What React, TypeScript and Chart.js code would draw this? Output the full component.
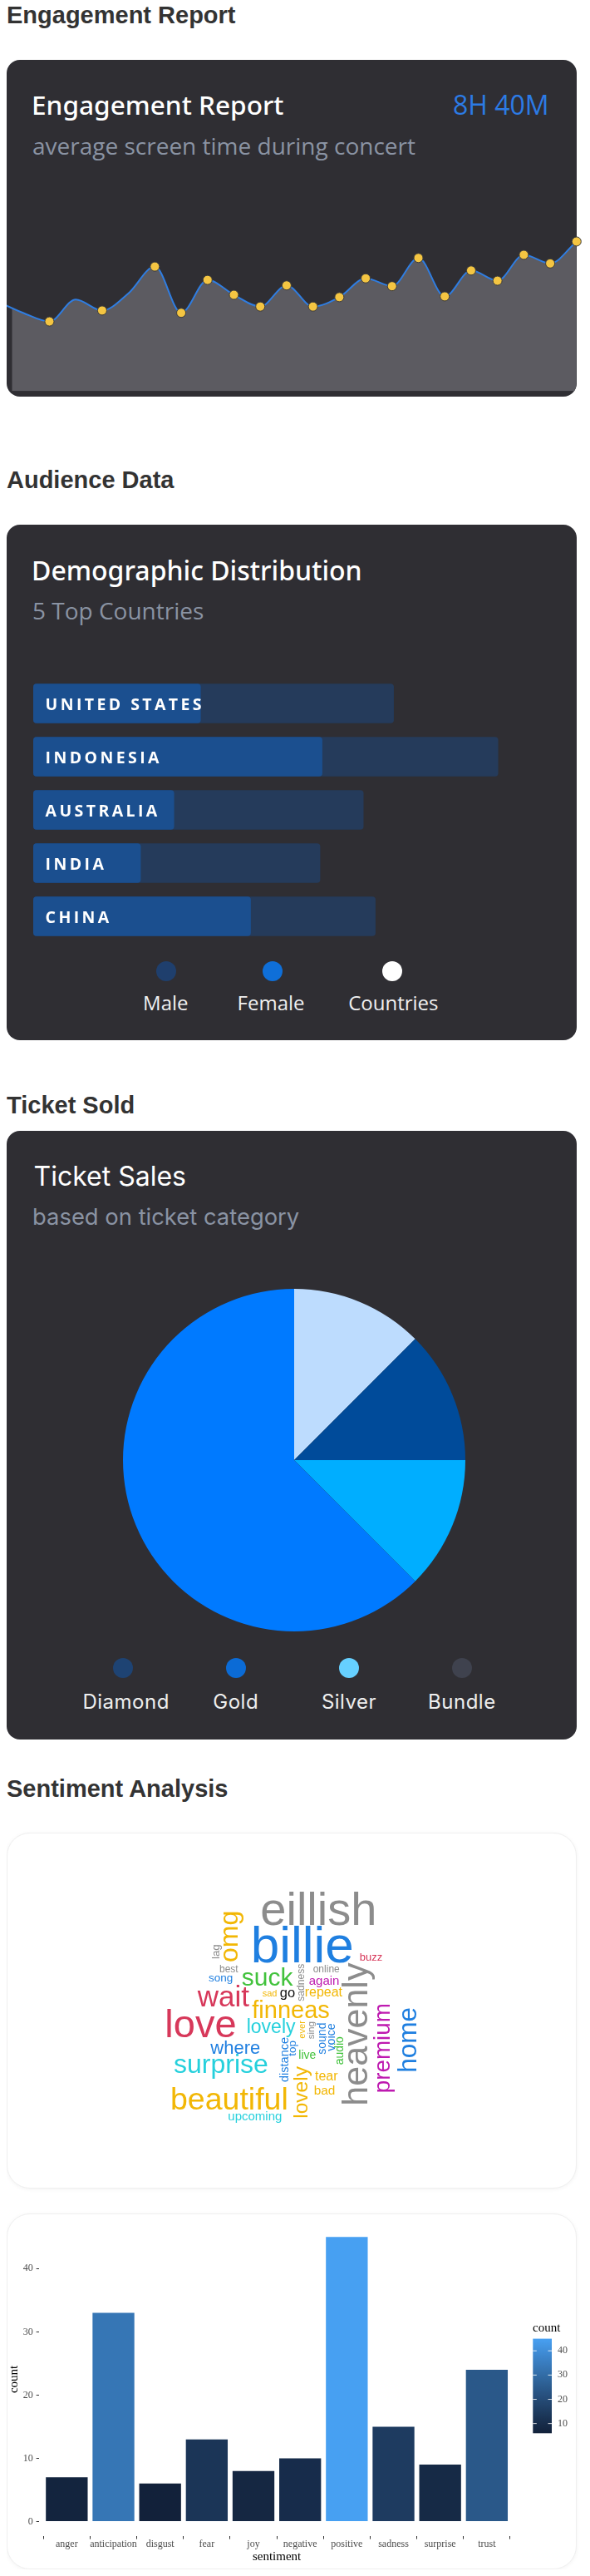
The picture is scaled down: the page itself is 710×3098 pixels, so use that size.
import React, { useEffect, useRef } from "react";
import { Chart, registerables } from "chart.js";

Chart.register(...registerables);

/* ---------------- data ---------------- */
// Engagement report: screen-time samples across the concert
const engagementSlots = [0, 1, 2, 3, 4, 5, 6, 7, 8, 9, 10, 11, 12, 13, 14, 15, 16, 17, 18, 19, 20, 21, 22];
const engagementValues = [115, 100, 89, 117, 103, 125, 159, 100, 142, 123, 108, 135, 108, 120, 144, 134, 170, 121, 154, 141, 174, 163, 191];
const engagementMarked = [0, 0, 1, 0, 1, 0, 1, 1, 1, 1, 1, 1, 1, 1, 1, 1, 1, 1, 1, 1, 1, 1, 1];

// Audience data
const countryNames = ["UNITED STATES", "INDONESIA", "AUSTRALIA", "INDIA", "CHINA"];
const femaleValues = [32.1, 55.4, 27.0, 20.6, 41.7];
const countryValues = [69.1, 89.1, 63.3, 55.0, 65.6];
const audienceLegend = ["Male", "Female", "Countries"];

// Ticket sales
const ticketLabels = ["Bundle", "Diamond", "Silver", "Gold"];
const ticketValues = [12.5, 12.5, 12.5, 62.5];
const ticketLegend = ["Diamond", "Gold", "Silver", "Bundle"];

// Word cloud
const cloudWords = ["eillish", "billie", "buzz", "best", "online", "song", "suck", "again", "wait", "sad", "go", "repeat", "finneas", "love", "lovely", "where", "live", "surprise", "tear", "bad", "beautiful", "upcoming", "omg", "lag", "sadness", "ever", "sing", "sound", "voice", "audio", "distance", "top", "lovely", "heavenly", "premium", "home"];
const cloudWeights = [56, 62, 13, 12, 12, 13.5, 30, 15, 35, 11, 16.5, 16, 29, 47, 23, 22, 14, 32, 16, 15.4, 37.5, 15, 32, 13.3, 12.1, 11.1, 11.6, 14, 14.3, 13.9, 14.5, 13.4, 24.5, 43, 27.8, 31.5];
const cloudX = [305.3, 293.7, 424.7, 256, 368.7, 243, 282.7, 363.7, 229.7, 307.7, 328.7, 358.7, 295.3, 190.3, 288.7, 245.3, 351.3, 201, 371, 369.7, 197, 266.3, 277.7, 256, 358, 358.7, 369.7, 383.7, 394.7, 404.7, 338.7, 348, 362, 434.3, 461.3, 492.9];
const cloudY = [111, 156, 154.3, 168, 167.7, 179.3, 184.3, 183.3, 209.3, 196.7, 197.7, 196.7, 223.3, 246, 241, 266, 272, 289.3, 297.7, 315.3, 333.3, 346, 156, 152, 202.7, 247.7, 248.3, 266.7, 262.7, 279.3, 300, 268.7, 343.7, 328.7, 313.3, 288.7];
const cloudVertical = [0, 0, 0, 0, 0, 0, 0, 0, 0, 0, 0, 0, 0, 0, 0, 0, 0, 0, 0, 0, 0, 0, 1, 1, 1, 1, 1, 1, 1, 1, 1, 1, 1, 1, 1, 1];
const cloudGroup = ["gray", "blue", "red", "gray", "gray", "blue", "green", "magenta", "red", "yellow", "black", "yellow", "yellow", "red", "cyan", "blue", "green", "cyan", "yellow", "yellow", "yellow", "cyan", "yellow", "gray", "gray", "yellow", "gray", "blue", "blue", "green", "blue", "blue", "yellow", "gray", "magenta", "blue"];

// Sentiment counts
const sentiments = ["anger", "anticipation", "disgust", "fear", "joy", "negative", "positive", "sadness", "surprise", "trust"];
const sentimentCounts = [7, 33, 6, 13, 8, 10, 45, 15, 9, 24];
const countTicks = [0, 10, 20, 30, 40];
const legendTicks = [10, 20, 30, 40];

/* ---------------- styles ---------------- */
const CARD_DARK = "#2f2e33";
const groupColors: Record<string, string> = {
  gray: "#8c8c8c",
  blue: "#1f7fe0",
  red: "#d7385a",
  green: "#42c23c",
  magenta: "#be1ab0",
  yellow: "#f2b705",
  cyan: "#25d0dc",
  black: "#111111",
};
const audienceColors = ["#1f3f6d", "#0f6fd8", "#ffffff"];
const ticketSliceColors = ["#bddcfe", "#004b9a", "#00aeff", "#007aff"];
const ticketLegendColors = ["#1e4373", "#0b6bd6", "#66d0ff", "#3f424e"];

/* ---------------- colour ramp (Lab) ---------------- */
function hexRgb(h: string) {
  const n = parseInt(h.slice(1), 16);
  return [(n >> 16) & 255, (n >> 8) & 255, n & 255];
}
function toLin(c: number) {
  c /= 255;
  return c <= 0.04045 ? c / 12.92 : Math.pow((c + 0.055) / 1.055, 2.4);
}
function fromLin(c: number) {
  const v = c <= 0.0031308 ? 12.92 * c : 1.055 * Math.pow(Math.max(c, 0), 1 / 2.4) - 0.055;
  return Math.round(Math.max(0, Math.min(1, v)) * 255);
}
function rgbToLab(rgb: number[]) {
  const R = toLin(rgb[0]), G = toLin(rgb[1]), B = toLin(rgb[2]);
  const X = (0.4124564 * R + 0.3575761 * G + 0.1804375 * B) / 0.95047;
  const Y = 0.2126729 * R + 0.7151522 * G + 0.072175 * B;
  const Z = (0.0193339 * R + 0.119192 * G + 0.9503041 * B) / 1.08883;
  const f = (t: number) => (t > 0.008856 ? Math.cbrt(t) : 7.787 * t + 16 / 116);
  const fx = f(X), fy = f(Y), fz = f(Z);
  return [116 * fy - 16, 500 * (fx - fy), 200 * (fy - fz)];
}
function labToRgb(lab: number[]) {
  const fy = (lab[0] + 16) / 116;
  const fx = fy + lab[1] / 500;
  const fz = fy - lab[2] / 200;
  const inv = (t: number) => (t * t * t > 0.008856 ? t * t * t : (t - 16 / 116) / 7.787);
  const X = inv(fx) * 0.95047, Y = inv(fy), Z = inv(fz) * 1.08883;
  const R = 3.2404542 * X - 1.5371385 * Y - 0.4985314 * Z;
  const G = -0.969266 * X + 1.8760108 * Y + 0.041556 * Z;
  const B = 0.0556434 * X - 0.2040259 * Y + 1.0572252 * Z;
  return `rgb(${fromLin(R)},${fromLin(G)},${fromLin(B)})`;
}
const LOW_LAB = rgbToLab(hexRgb("#12213a"));
const HIGH_LAB = rgbToLab(hexRgb("#47a0f2"));
const cMin = Math.min(...sentimentCounts);
const cMax = Math.max(...sentimentCounts);
function countColor(v: number) {
  const t = (v - cMin) / (cMax - cMin);
  return labToRgb(LOW_LAB.map((l, i) => l + (HIGH_LAB[i] - l) * t));
}

/* ---------------- helpers ---------------- */
const PAGE = 8;
const WIDTH = 694; // root container width
const CARD_W = 686; // card width

function ChartBox(props: { left: number; top: number; width: number; height: number; make: () => any }) {
  const ref = useRef<HTMLCanvasElement>(null);
  useEffect(() => {
    const chart = new Chart(ref.current as HTMLCanvasElement, props.make());
    return () => chart.destroy();
  }, []);
  return (
    <div style={{ position: "absolute", left: props.left - PAGE, top: props.top - PAGE, width: props.width, height: props.height }}>
      <canvas ref={ref} />
    </div>
  );
}

function Txt(props: {
  x: number; base: number; size: number; font: string; k: number; weight?: number; color: string;
  anchor?: "left" | "right" | "center"; ls?: number; children: React.ReactNode;
}) {
  const style: React.CSSProperties = {
    position: "absolute",
    top: props.base - PAGE - props.k * props.size,
    fontFamily: props.font,
    fontSize: props.size,
    lineHeight: `${props.size}px`,
    fontWeight: props.weight ?? 400,
    color: props.color,
    whiteSpace: "nowrap",
    letterSpacing: props.ls ?? 0,
  };
  const a = props.anchor ?? "left";
  if (a === "left") style.left = props.x - PAGE;
  else if (a === "right") style.right = WIDTH - (props.x - PAGE);
  else {
    style.left = props.x - PAGE;
    style.transform = "translateX(-50%)";
  }
  return <div style={style}>{props.children}</div>;
}

function Card(props: { top: number; height: number; dark?: boolean }) {
  return (
    <div
      style={{
        position: "absolute",
        left: 0,
        top: props.top - PAGE,
        width: CARD_W,
        height: props.height,
        boxSizing: "border-box",
        borderRadius: props.dark ? 16 : 28,
        background: props.dark ? CARD_DARK : "#ffffff",
        border: props.dark ? "none" : "1px solid #efefef",
        boxShadow: props.dark ? "none" : "0 1px 5px rgba(0,0,0,0.05)",
      }}
    />
  );
}

function Dot(props: { cx: number; cy: number; r: number; color: string }) {
  return (
    <div
      style={{
        position: "absolute",
        left: props.cx - PAGE - props.r,
        top: props.cy - PAGE - props.r,
        width: props.r * 2,
        height: props.r * 2,
        borderRadius: "50%",
        background: props.color,
      }}
    />
  );
}

const HEAD = '"Liberation Sans", Arial, sans-serif';
const OPEN = '"Open Sans", "Noto Sans", sans-serif';
const NOTO = '"Noto Sans", "Open Sans", sans-serif';
const INTER = 'Inter, "Open Sans", sans-serif';
const SERIF = '"Liberation Serif", "Times New Roman", serif';
const K_HEAD = 0.8465;
const K_OPEN = 0.888;
const K_INTER = 0.8633;

/* ---------------- chart configs ---------------- */
const baseOptions = {
  animation: false,
  responsive: true,
  maintainAspectRatio: false,
  events: [],
  plugins: { legend: { display: false }, tooltip: { enabled: false } },
};

function engagementConfig() {
  const roundClip = {
    id: "roundClip",
    beforeDatasetsDraw(chart: any) {
      const { ctx, width: W, height: H } = chart;
      const R = 16;
      const right = chart.chartArea.right;
      ctx.save();
      ctx.beginPath();
      ctx.moveTo(0, 0);
      ctx.lineTo(W, 0);
      ctx.lineTo(W, H - R);
      ctx.lineTo(right, H - R);
      ctx.arcTo(right, H, right - R, H, R);
      ctx.lineTo(R, H);
      ctx.arcTo(0, H, 0, H - R, R);
      ctx.closePath();
      ctx.clip();
    },
    afterDatasetsDraw(chart: any) {
      chart.ctx.restore();
    },
  };
  return {
    type: "line",
    data: {
      datasets: [
        {
          data: engagementSlots.map((x, i) => ({ x, y: engagementValues[i] })),
          borderColor: "#2f7de1",
          borderWidth: 2,
          fill: "start",
          backgroundColor: "#5c5b61",
          cubicInterpolationMode: "monotone",
          pointRadius: engagementMarked.map((m) => (m ? 5.5 : 0)),
          pointBackgroundColor: "#f4c542",
          pointBorderColor: "#3a3a3a",
          pointBorderWidth: 1,
          clip: false,
        },
      ],
    },
    options: {
      ...baseOptions,
      layout: { padding: { left: 0, right: 16.2, top: 0, bottom: 0 } },
      scales: {
        x: { type: "linear", min: 0.582, max: 22, display: false },
        y: { type: "linear", min: 0, max: 227, display: false },
      },
    },
    plugins: [roundClip],
  };
}

function audienceConfig() {
  const labels = {
    id: "countryLabels",
    afterDatasetsDraw(chart: any) {
      const { ctx } = chart;
      const y = chart.scales.y;
      ctx.save();
      ctx.font = `700 19.5px ${OPEN}`;
      ctx.fillStyle = "#ffffff";
      (ctx as any).letterSpacing = "3.4px";
      ctx.textBaseline = "alphabetic";
      countryNames.forEach((name, i) => {
        ctx.fillText(name, 14.6, y.getPixelForValue(i) + 7.5);
      });
      ctx.restore();
    },
  };
  return {
    type: "bar",
    data: {
      labels: countryNames,
      datasets: [
        { data: femaleValues, backgroundColor: "#1b4f8f", grouped: false, borderRadius: 4, borderSkipped: false, barPercentage: 0.74, categoryPercentage: 1 },
        { data: countryValues, backgroundColor: "#253b5b", grouped: false, borderRadius: 4, borderSkipped: false, barPercentage: 0.74, categoryPercentage: 1 },
      ],
    },
    options: {
      ...baseOptions,
      indexAxis: "y",
      layout: { padding: 0 },
      scales: {
        x: { type: "linear", min: 0, max: 100, display: false },
        y: { display: false },
      },
    },
    plugins: [labels],
  };
}

function ticketConfig() {
  return {
    type: "pie",
    data: {
      labels: ticketLabels,
      datasets: [{ data: ticketValues, backgroundColor: ticketSliceColors, borderWidth: 0, hoverOffset: 0, offset: 0 }],
    },
    options: { ...baseOptions, layout: { padding: 0 } },
  };
}

function cloudConfig() {
  const words = {
    id: "words",
    afterDatasetsDraw(chart: any) {
      const { ctx } = chart;
      const pts = chart.getDatasetMeta(0).data;
      ctx.save();
      ctx.textBaseline = "alphabetic";
      cloudWords.forEach((w, i) => {
        const p = pts[i];
        ctx.save();
        ctx.translate(p.x, p.y);
        if (cloudVertical[i]) ctx.rotate(-Math.PI / 2);
        ctx.font = `400 ${cloudWeights[i]}px ${HEAD}`;
        ctx.fillStyle = groupColors[cloudGroup[i]];
        ctx.fillText(w, 0, 0);
        ctx.restore();
      });
      ctx.restore();
    },
  };
  return {
    type: "scatter",
    data: { datasets: [{ data: cloudWords.map((_, i) => ({ x: cloudX[i], y: cloudY[i] })), pointRadius: 0 }] },
    options: {
      ...baseOptions,
      layout: { padding: 0 },
      scales: {
        x: { type: "linear", min: 0, max: CARD_W, display: false },
        y: { type: "linear", min: 0, max: 428, reverse: true, display: false },
      },
    },
    plugins: [words],
  };
}

function sentimentConfig() {
  const colorbar = {
    id: "colorbar",
    afterDraw(chart: any) {
      const { ctx } = chart;
      const x0 = 633.3, x1 = 656, top = 150.6, bottom = 264.3;
      ctx.save();
      const g = ctx.createLinearGradient(0, bottom, 0, top);
      for (let s = 0; s <= 10; s++) g.addColorStop(s / 10, countColor(cMin + (cMax - cMin) * (s / 10)));
      ctx.fillStyle = g;
      ctx.fillRect(x0, top, x1 - x0, bottom - top);
      ctx.font = `15px ${SERIF}`;
      ctx.fillStyle = "#000";
      ctx.textBaseline = "alphabetic";
      ctx.fillText("count", 633, 141.6);
      ctx.font = `12px ${SERIF}`;
      ctx.fillStyle = "#4d4d4d";
      ctx.textBaseline = "middle";
      ctx.strokeStyle = "rgba(255,255,255,0.85)";
      ctx.lineWidth = 1;
      legendTicks.forEach((v) => {
        const y = bottom - ((v - cMin) / (cMax - cMin)) * (bottom - top);
        ctx.beginPath();
        ctx.moveTo(x0, y);
        ctx.lineTo(x0 + 4.5, y);
        ctx.moveTo(x1 - 4.5, y);
        ctx.lineTo(x1, y);
        ctx.stroke();
        ctx.fillText(String(v), 663, y);
      });
      ctx.restore();
    },
  };
  return {
    type: "bar",
    data: {
      datasets: [
        {
          data: sentiments.map((_, i) => ({ x: i + 1, y: sentimentCounts[i] })),
          backgroundColor: sentimentCounts.map(countColor),
          borderWidth: 0,
          barPercentage: 0.896,
          categoryPercentage: 1,
        },
      ],
    },
    options: {
      ...baseOptions,
      layout: { padding: { top: 7.7, right: 74.45, left: 0, bottom: 0 } },
      scales: {
        x: {
          type: "linear",
          min: 0.4,
          max: 10.6,
          offset: false,
          afterBuildTicks: (s: any) => {
            s.ticks = sentiments.map((_, i) => ({ value: i + 1 }));
          },
          afterFit: (s: any) => {
            s.height = 40.4;
          },
          grid: { display: true, drawOnChartArea: false, drawTicks: true, tickLength: 4, color: "#333", lineWidth: 1 },
          border: { display: false },
          ticks: {
            autoSkip: false,
            maxRotation: 0,
            padding: -1,
            color: "#4d4d4d",
            font: { family: SERIF, size: 12 },
            callback: (v: number) => sentiments[Math.round(v) - 1] ?? "",
          },
          title: { display: true, text: "sentiment", color: "#000", font: { family: SERIF, size: 15 }, padding: { top: 0, bottom: 5.7 } },
        },
        y: {
          type: "linear",
          min: -2.25,
          max: 47.25,
          afterBuildTicks: (s: any) => {
            s.ticks = countTicks.map((v) => ({ value: v }));
          },
          afterFit: (s: any) => {
            s.width = 38.65;
          },
          grid: { display: true, drawOnChartArea: false, drawTicks: true, tickLength: 3, color: "#333", lineWidth: 1 },
          border: { display: false },
          ticks: { padding: 4, color: "#4d4d4d", font: { family: SERIF, size: 12 } },
          title: { display: true, text: "count", color: "#000", font: { family: SERIF, size: 15 }, padding: { top: 0, bottom: 0 } },
        },
      },
    },
    plugins: [colorbar],
  };
}

/* ---------------- app ---------------- */
export default function App() {
  const audienceDotX = [199.7, 327.9, 471.9];
  const audienceLabelX = [199.3, 326.1, 473.3];
  const ticketDotX = [148, 284, 420, 556];
  const ticketLabelX = [151.7, 283.7, 420, 555.9];
  return (
    <div style={{ position: "relative", width: WIDTH, height: 3082 }}>
      {/* Section 1 */}
      <Txt x={8} base={29} size={29} font={HEAD} k={K_HEAD} weight={700} color="#333">Engagement Report</Txt>
      <Card top={72} height={405} dark />
      <Txt x={38} base={138.3} size={31.6} font={NOTO} k={K_OPEN} weight={500} color="#ffffff">Engagement Report</Txt>
      <Txt x={660.5} base={138.3} size={32} font={OPEN} k={K_OPEN} weight={400} color="#2c7be5" anchor="right">8H 40M</Txt>
      <Txt x={39} base={185.5} size={28} font={OPEN} k={K_OPEN} color="#8a93a3">average screen time during concert</Txt>
      <ChartBox left={8} top={250} width={702} height={227} make={engagementConfig} />

      {/* Section 2 */}
      <Txt x={8} base={588} size={29} font={HEAD} k={K_HEAD} weight={700} color="#333">Audience Data</Txt>
      <Card top={631} height={620} dark />
      <Txt x={38} base={698} size={32} font={NOTO} k={K_OPEN} weight={500} color="#ffffff">Demographic Distribution</Txt>
      <Txt x={39} base={745} size={28} font={OPEN} k={K_OPEN} color="#8a93a3">5 Top Countries</Txt>
      <ChartBox left={40.3} top={814} width={628} height={320} make={audienceConfig} />
      {audienceLegend.map((l, i) => (
        <React.Fragment key={l}>
          <Dot cx={audienceDotX[i]} cy={1168} r={12} color={audienceColors[i]} />
          <Txt x={audienceLabelX[i]} base={1215} size={24} font={OPEN} k={K_OPEN} color="#f0f0f0" anchor="center">{l}</Txt>
        </React.Fragment>
      ))}

      {/* Section 3 */}
      <Txt x={8} base={1340} size={29} font={HEAD} k={K_HEAD} weight={700} color="#333">Ticket Sold</Txt>
      <Card top={1360} height={732} dark />
      <Txt x={40.5} base={1427} size={32} font={INTER} k={K_INTER} color="#ffffff">Ticket Sales</Txt>
      <Txt x={39} base={1474} size={27.4} font={INTER} k={K_INTER} color="#8a93a3">based on ticket category</Txt>
      <ChartBox left={148} top={1550} width={412} height={412} make={ticketConfig} />
      {ticketLegend.map((l, i) => (
        <React.Fragment key={l}>
          <Dot cx={ticketDotX[i]} cy={2005.7} r={12} color={ticketLegendColors[i]} />
          <Txt x={ticketLabelX[i]} base={2056} size={24} font={INTER} k={K_INTER} color="#eeeeee" anchor="center" ls={0.5}>{l}</Txt>
        </React.Fragment>
      ))}

      {/* Section 4 */}
      <Txt x={8} base={2161.7} size={29} font={HEAD} k={K_HEAD} weight={700} color="#333">Sentiment Analysis</Txt>
      <Card top={2204} height={428} />
      <ChartBox left={8} top={2204} width={CARD_W} height={428} make={cloudConfig} />
      <Card top={2662} height={428} />
      <ChartBox left={8} top={2662} width={CARD_W} height={428} make={sentimentConfig} />
    </div>
  );
}
